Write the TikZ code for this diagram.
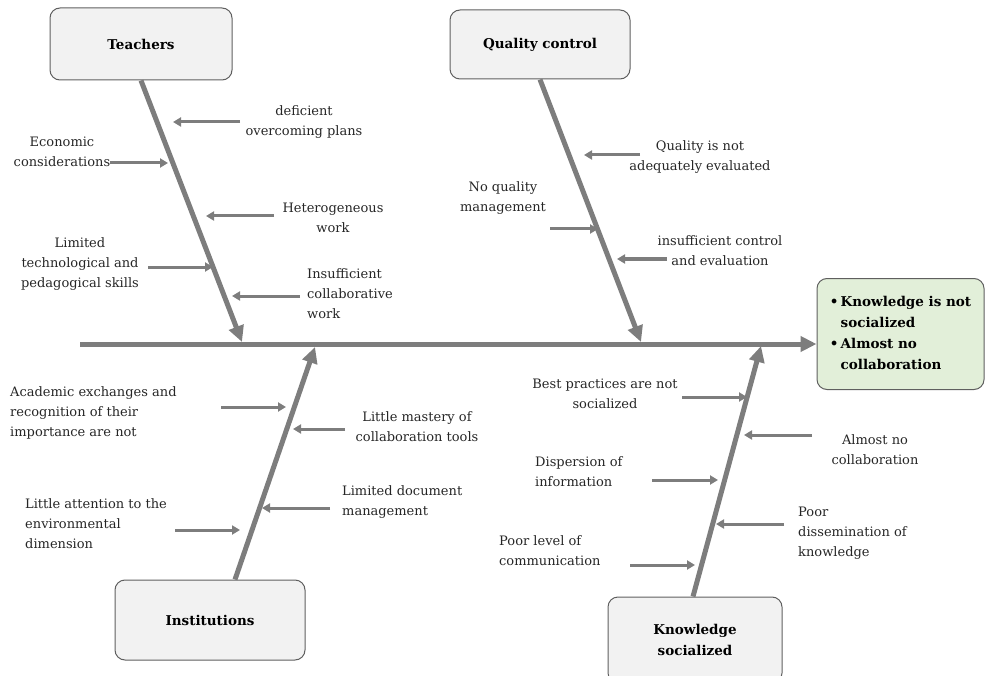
\documentclass[tikz,border=0pt]{standalone}
\usepackage{fontspec}
\setmainfont{DejaVu Serif}
\usepackage{tikz}
\usetikzlibrary{arrows.meta}

\definecolor{bone}{RGB}{125,125,125}
\definecolor{boxgray}{RGB}{242,242,242}
\definecolor{boxgreen}{RGB}{226,239,217}
\definecolor{boxline}{RGB}{95,95,95}

\begin{document}
\begin{tikzpicture}[x=1pt, y=-1pt]
  \tikzstyle{category}=[rounded corners=10pt, draw=boxline, line width=1pt, fill=boxgray, font=\bfseries\fontsize{13.5}{21}\selectfont]
  \tikzstyle{lbl}=[inner sep=0pt, font=\fontsize{13}{20}\selectfont, text=black!85]
  \tikzstyle{bonearrow}=[draw=bone, line width=5pt, -{Triangle[length=16pt,width=15pt]}]
  \tikzstyle{cause}=[draw=bone, line width=3pt, -{Triangle[length=8pt,width=9pt]}]
  \useasboundingbox (0,0) rectangle (987,676);

  % categories and effect
  \node (teach) at (141,44) [category, minimum width=182pt, minimum height=72pt] {Teachers};
  \node (qual) at (540,44.5) [category, minimum width=180pt, minimum height=69pt] {Quality control};
  \node (inst) at (210,620) [category, minimum width=190pt, minimum height=80pt] {Institutions};
  \node (know) at (695,640) [category, minimum width=174pt, minimum height=86pt, align=center] {Knowledge\\socialized};
  \node (effect) at (900.5,334) [category, fill=boxgreen, minimum width=167pt, minimum height=111pt]
  {\begin{tabular}{@{}l@{\,}l@{}}
     •&Knowledge is not\\ &socialized\\
     •&Almost no\\ &collaboration
   \end{tabular}};

  % spine and bones
  \coordinate (tail) at (80,344);
  \coordinate (tipT) at (242,342);
  \coordinate (tipQ) at (641,342);
  \coordinate (tipI) at (315,347);
  \coordinate (tipK) at (761,346);
  \draw[bonearrow] (tail) -- (effect.west |- tail);
  \draw[bonearrow] (teach.south) -- (tipT);
  \draw[bonearrow] (qual.south) -- (tipQ);
  \draw[bonearrow] ([xshift=25pt]inst.north) -- (tipI);
  \draw[bonearrow] ([xshift=-2pt]know.north) -- (tipK);

  % causes
  \node (c1) at (304,122) [lbl, align=center] {deficient\\overcoming plans};
  \node (c2) at (62,152) [lbl, align=center] {Economic\\considerations};
  \node (c3) at (333,218) [lbl, align=center] {Heterogeneous\\work};
  \node (c4) at (80,264) [lbl, align=center] {Limited\\technological and\\pedagogical skills};
  \node (c5) at (307,294) [lbl, align=left, anchor=west] {Insufficient\\collaborative\\work};
  \node (c6) at (700,157) [lbl, align=center] {Quality is not\\adequately evaluated};
  \node (c7) at (503,198) [lbl, align=center] {No quality\\management};
  \node (c8) at (720,251) [lbl, align=center] {insufficient control\\and evaluation};
  \node (c9) at (10,413) [lbl, align=left, anchor=west] {Academic exchanges and\\recognition of their\\importance are not};
  \node (c10) at (417,427) [lbl, align=center] {Little mastery of\\collaboration tools};
  \node (c11) at (342,502) [lbl, align=left, anchor=west] {Limited document\\management};
  \node (c12) at (25,524) [lbl, align=left, anchor=west] {Little attention to the\\environmental\\dimension};
  \node (c13) at (605,394) [lbl, align=center] {Best practices are not\\socialized};
  \node (c14) at (875,450) [lbl, align=center] {Almost no\\collaboration};
  \node (c15) at (535,472) [lbl, align=left, anchor=west] {Dispersion of\\information};
  \node (c16) at (798,533) [lbl, align=left, anchor=west] {Poor\\dissemination of\\knowledge};
  \node (c17) at (499,551) [lbl, align=left, anchor=west] {Poor level of\\communication};

  \foreach \i/\xa/\xb/\y in {1/240/173/122, 2/110/168/163, 3/274/206/216, 4/148/213/267,
    5/300/232/296, 6/640/584/155, 7/550/598/229, 8/667/617/259, 9/221/286/407,
    10/345/293/429, 11/330/262/508, 12/175/240/530, 13/682/747/397, 14/812/744/435,
    15/652/718/480, 16/784/716/524, 17/630/695/565} {
    \coordinate (a\i) at (\xa,\y);
    \coordinate (b\i) at (\xb,\y);
    \draw[cause] (a\i) -- (b\i);
  }
\end{tikzpicture}
\end{document}
